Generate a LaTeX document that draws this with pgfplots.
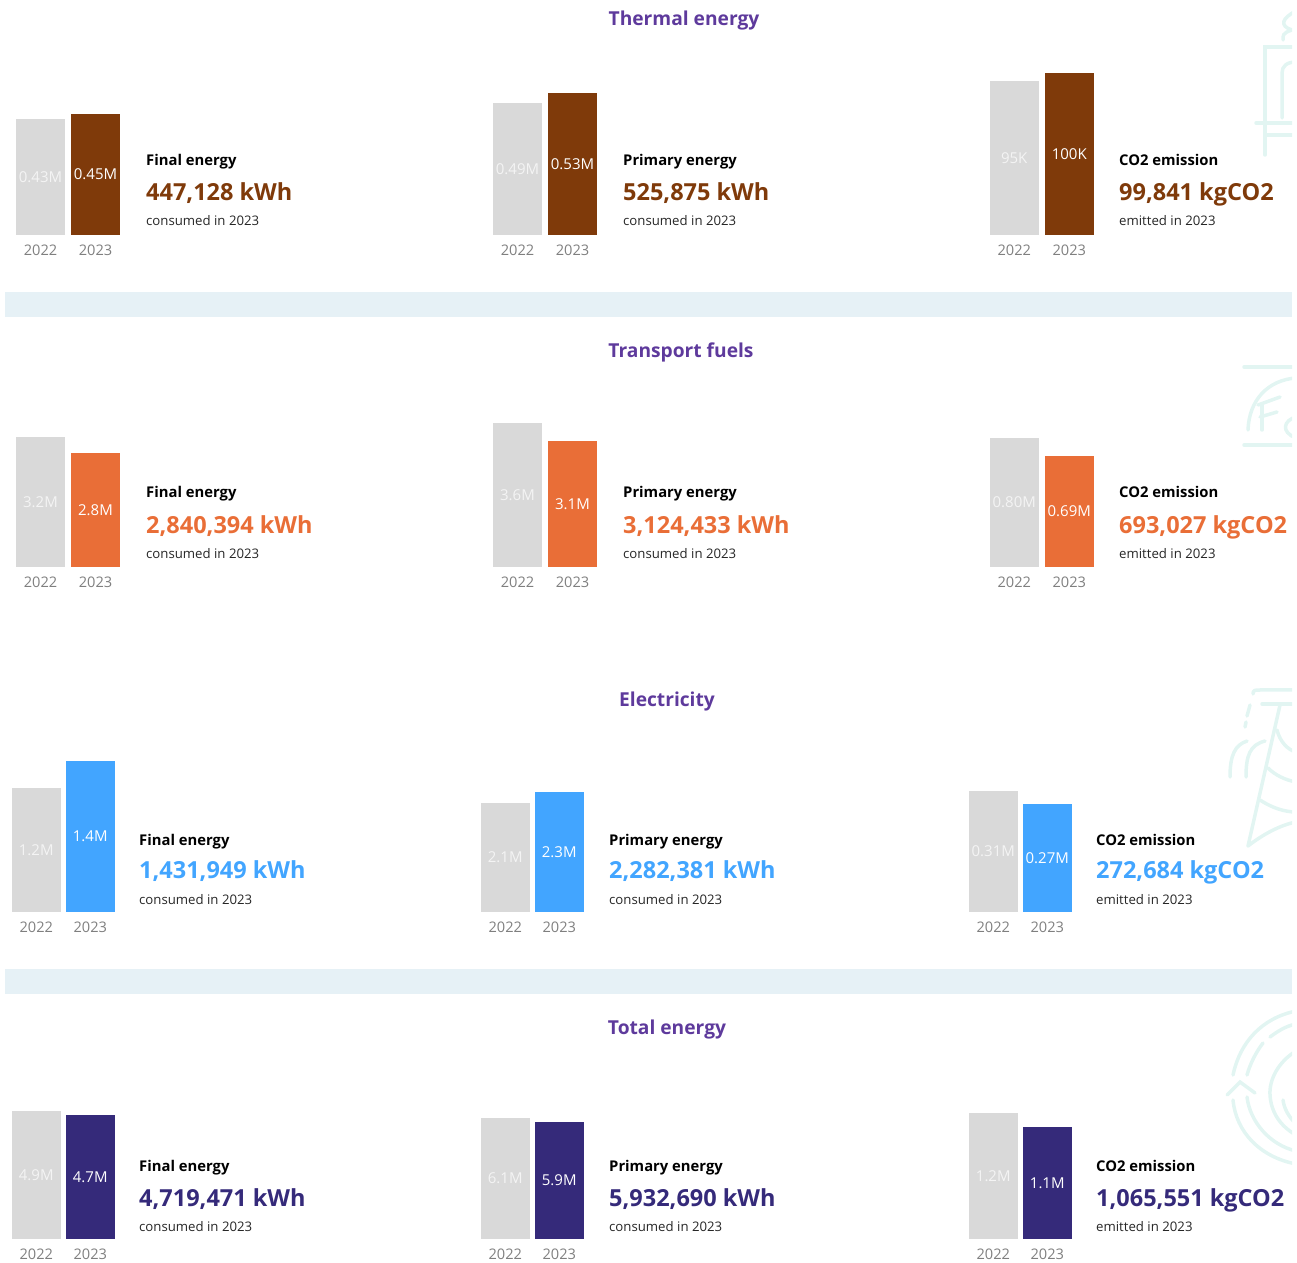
\documentclass[border=0pt]{standalone}
\usepackage{pgfplots}
\pgfplotsset{compat=1.18}
\usepackage{fontspec}
\setmainfont{Open Sans}
\definecolor{brownc}{HTML}{7F3A0A}
\definecolor{orangec}{HTML}{E96E37}
\definecolor{bluec}{HTML}{42A5FF}
\definecolor{navyc}{HTML}{352A7A}
\definecolor{greyc}{HTML}{D9D9D9}
\definecolor{titlec}{HTML}{5E3A9C}
\definecolor{bandc}{HTML}{E6F1F6}
\definecolor{iconc}{HTML}{E2F5F2}
\definecolor{tickc}{HTML}{7F7F7F}
\definecolor{labg}{HTML}{F4F4F4}
\newcommand{\fs}[1]{\fontsize{#1}{#1}\selectfont}
\newcommand{\panel}[9]{%
\pgfmathsetmacro{\axl}{#2+#5/2-#4/2}%
\pgfmathsetmacro{\axb}{1262-#3}%
\pgfmathsetmacro{\axw}{2*#4}%
\pgfmathsetmacro{\ymaxv}{175*#8/\hh}%
\begin{axis}[at={(\axl pt,\axb pt)},anchor=south west,scale only axis,
  width=\axw pt,height=175pt,xmin=-0.5,xmax=1.5,ymin=0,ymax=\ymaxv,
  axis line style={draw=none},tick style={draw=none},ytick=\empty,
  xtick={0,1},xticklabels={2022,2023},
  xticklabel style={text=tickc,font=\fs{14.6},inner sep=0pt,yshift=-9.5pt},
  clip=false,
  point meta=explicit symbolic,
  visualization depends on={rawy/2 \as \halfy},
  nodes near coords,
  nodes near coords align={anchor=center},
  every node near coord/.append style={font=\fs{15},inner sep=0pt,shift={(axis direction cs:0,-\halfy)}}]
\addplot[ybar,bar shift=0pt,bar width=#5pt,fill=greyc,draw=none,every node near coord/.append style={text=labg}] coordinates {(0,#6) [#7]};
\addplot[ybar,bar shift=0pt,bar width=#5pt,fill=#1,draw=none,every node near coord/.append style={text=white}] coordinates {(1,#8) [#9]};
\end{axis}}
\newcommand{\info}[8]{%
\node[anchor=base west,inner sep=0pt,font=\fs{14.8}\bfseries,text=black] at (#2,#3) {#6};
\node[anchor=base west,inner sep=0pt,font=\fs{23.5}\bfseries,text=#1] at (#2,#4) {#7};
\node[anchor=base west,inner sep=0pt,font=\fs{13.2},text=black!85] at (#2,#5) {#8};}
\newcommand{\ttl}[3]{\node[anchor=center,inner sep=0pt,font=\fs{19.2}\bfseries,text=titlec] at (#1,#2) {#3};}
\begin{document}
\begin{tikzpicture}
\path[use as bounding box] (0,0) rectangle (1297pt,1262pt);
\begin{scope}[x=1pt,y=-1pt,yshift=1262pt]
\fill[bandc] (5,292) rectangle (1292,317);
\fill[bandc] (5,969) rectangle (1292,994);
\clip (0,0) rectangle (1292,1262);
\begin{scope}[draw=iconc,line width=3.5pt,line cap=round]
% thermal icon
\draw (1296,11) .. controls (1282,18) and (1279,26) .. (1292,30) .. controls (1282,33) and (1283,36) .. (1283,40);
\draw (1265,155) -- (1265,47) -- (1296,47);
\draw (1256,123) -- (1296,123);
\draw (1265,135) -- (1296,135);
\draw (1282,118) -- (1282,73) .. controls (1282,66) and (1287,62) .. (1296,62);
% transport icon
\draw (1244,367) -- (1296,367);
\draw (1244,445) -- (1296,445);
\draw (1248,430) .. controls (1249,400) and (1268,380) .. (1296,378);
\draw (1258,405) -- (1280,397);
\draw (1260,417) -- (1277,412);
\draw (1262,405) -- (1262,430);
\draw (1296,417) .. controls (1284,420) and (1280,432) .. (1296,438);
% electricity icon
\draw (1253,694) .. controls (1253,690) and (1255,690) .. (1260,690) -- (1296,690);
\draw (1250,705) -- (1247,716);
\draw (1246,722) -- (1245,727);
\draw (1262,704) -- (1296,704);
\draw (1280,705) -- (1248,846);
\draw (1230,777) .. controls (1230,755) and (1235,745) .. (1247,741);
\draw (1246,777) .. controls (1246,755) and (1250,745) .. (1265,741);
\draw (1277,730) .. controls (1280,742) and (1288,750) .. (1296,752);
\draw (1268,768) .. controls (1275,775) and (1285,780) .. (1296,782);
\draw (1260,800) .. controls (1272,808) and (1285,812) .. (1296,812);
\draw (1248,846) .. controls (1262,835) and (1280,825) .. (1296,822);
% total icon
\draw (1296,1011) .. controls (1262,1018) and (1240,1042) .. (1233,1075);
\draw (1296,1024) .. controls (1286,1026) and (1278,1031) .. (1270,1037);
\draw (1263,1043) .. controls (1256,1052) and (1250,1064) .. (1247,1075);
\draw (1227,1095) -- (1240,1082) -- (1255,1093);
\draw (1233,1100) .. controls (1236,1132) and (1260,1157) .. (1296,1164);
\draw (1247,1097) .. controls (1250,1122) and (1270,1145) .. (1296,1151);
\draw (1296,1051) .. controls (1278,1062) and (1269,1080) .. (1270,1095) .. controls (1271,1112) and (1280,1126) .. (1296,1135);
\draw (1283,1100) .. controls (1284,1108) and (1288,1116) .. (1296,1124);
\end{scope}
\ttl{684}{20.5}{Thermal energy}
\ttl{681}{352.5}{Transport fuels}
\ttl{667}{701.5}{Electricity}
\ttl{667}{1029.5}{Total energy}
\info{brownc}{146}{166}{200.5}{226}{Final energy}{447,128 kWh}{consumed in 2023}
\info{brownc}{623}{166}{200.5}{226}{Primary energy}{525,875 kWh}{consumed in 2023}
\info{brownc}{1119}{166}{200.5}{226}{CO2 emission}{99,841 kgCO2}{emitted in 2023}
\info{orangec}{146}{498}{533.5}{559}{Final energy}{2,840,394 kWh}{consumed in 2023}
\info{orangec}{623}{498}{533.5}{559}{Primary energy}{3,124,433 kWh}{consumed in 2023}
\info{orangec}{1119}{498}{533.5}{559}{CO2 emission}{693,027 kgCO2}{emitted in 2023}
\info{bluec}{139}{845.5}{878.5}{904}{Final energy}{1,431,949 kWh}{consumed in 2023}
\info{bluec}{609}{845.5}{878.5}{904}{Primary energy}{2,282,381 kWh}{consumed in 2023}
\info{bluec}{1096}{845.5}{878.5}{904}{CO2 emission}{272,684 kgCO2}{emitted in 2023}
\info{navyc}{139}{1171.5}{1206}{1231}{Final energy}{4,719,471 kWh}{consumed in 2023}
\info{navyc}{609}{1171.5}{1206}{1231}{Primary energy}{5,932,690 kWh}{consumed in 2023}
\info{navyc}{1096}{1171.5}{1206}{1231}{CO2 emission}{1,065,551 kgCO2}{emitted in 2023}
\end{scope}
\def\hh{121}\panel{brownc}{16}{235}{55}{49}{0.428650}{0.43M}{0.447128}{0.45M}
\def\hh{142}\panel{brownc}{493}{235}{55}{49}{0.488842}{0.49M}{0.525875}{0.53M}
\def\hh{162}\panel{brownc}{990}{235}{55}{48.5}{0.094910}{95K}{0.099841}{100K}
\def\hh{114}\panel{orangec}{16}{567}{55}{49}{3.24}{3.2M}{2.840394}{2.8M}
\def\hh{126}\panel{orangec}{493}{567}{55}{49}{3.57}{3.6M}{3.124433}{3.1M}
\def\hh{111}\panel{orangec}{990}{567}{55}{48.5}{0.804}{0.80M}{0.693027}{0.69M}
\def\hh{151}\panel{bluec}{12}{912}{54}{48.5}{1.176}{1.2M}{1.431949}{1.4M}
\def\hh{120}\panel{bluec}{481}{912}{54}{48.5}{2.073}{2.1M}{2.282381}{2.3M}
\def\hh{108}\panel{bluec}{969}{912}{54}{48.5}{0.3055}{0.31M}{0.272684}{0.27M}
\def\hh{124}\panel{navyc}{12}{1239}{54}{48.5}{4.872}{4.9M}{4.719471}{4.7M}
\def\hh{117}\panel{navyc}{481}{1239}{54}{48.5}{6.135}{6.1M}{5.932690}{5.9M}
\def\hh{112}\panel{navyc}{969}{1239}{54}{48.5}{1.199}{1.2M}{1.065551}{1.1M}
\end{tikzpicture}
\end{document}
